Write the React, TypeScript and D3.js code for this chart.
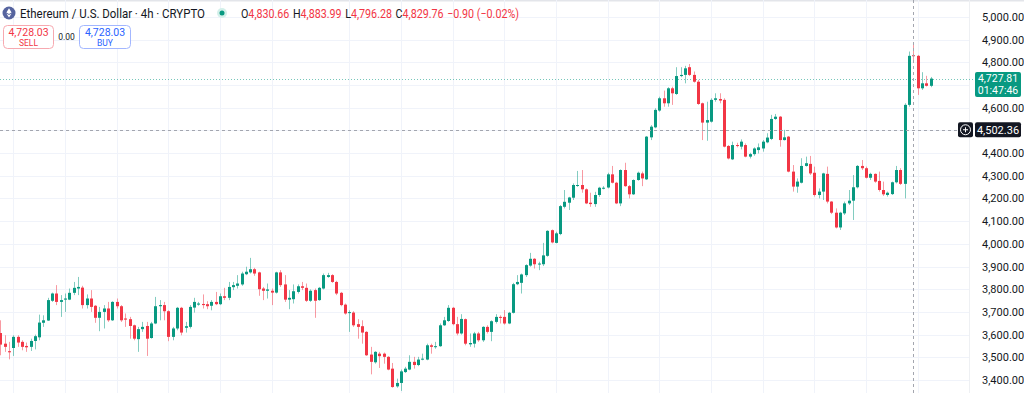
import * as d3 from 'd3';

const W = 1024;
const H = 393;

// 4h candles, oldest first
const opens = [
  3607, 3560, 3527, 3541, 3590, 3568, 3550, 3546, 3572, 3588, 3652, 3662, 3749, 3781, 3744, 3754, 3754, 3784, 3803, 3807,
  3730, 3759, 3727, 3674, 3700, 3715, 3663, 3744, 3725, 3671, 3668, 3641, 3580, 3624, 3638, 3585, 3649, 3725, 3730, 3703,
  3590, 3627, 3718, 3630, 3634, 3719, 3732, 3735, 3734, 3727, 3744, 3734, 3769, 3762, 3809, 3815, 3821, 3866, 3874, 3888,
  3874, 3803, 3793, 3793, 3785, 3874, 3821, 3754, 3756, 3788, 3813, 3806, 3749, 3796, 3752, 3803, 3854, 3862, 3832, 3784,
  3732, 3696, 3697, 3646, 3637, 3612, 3512, 3478, 3516, 3516, 3502, 3450, 3372, 3387, 3435, 3446, 3480, 3466, 3490, 3490,
  3553, 3546, 3549, 3641, 3660, 3718, 3646, 3605, 3668, 3557, 3560, 3605, 3575, 3634, 3612, 3656, 3678, 3678, 3649, 3696,
  3822, 3828, 3862, 3904, 3934, 3910, 3910, 3947, 4060, 4004, 4043, 4163, 4181, 4203, 4256, 4259, 4240, 4181, 4175, 4215,
  4246, 4248, 4306, 4269, 4178, 4325, 4254, 4218, 4281, 4310, 4284, 4469, 4513, 4587, 4641, 4619, 4685, 4660, 4739, 4744,
  4778, 4744, 4714, 4619, 4534, 4538, 4634, 4638, 4634, 4431, 4372, 4435, 4428, 4435, 4384, 4395, 4413, 4420, 4447, 4462,
  4550, 4560, 4457, 4472, 4318, 4252, 4269, 4343, 4352, 4313, 4215, 4230, 4308, 4186, 4137, 4072, 4134, 4178, 4190, 4249,
  4343, 4333, 4291, 4308, 4277, 4237, 4215, 4219, 4271, 4325, 4264, 4612, 4830.66, 4828, 4685, 4707, 4696,
];
const highs = [
  3663, 3597, 3568, 3597, 3597, 3575, 3565, 3582, 3600, 3688, 3685, 3762, 3785, 3818, 3774, 3781, 3803, 3832, 3854, 3815,
  3777, 3796, 3730, 3722, 3730, 3744, 3747, 3759, 3730, 3693, 3678, 3644, 3634, 3656, 3656, 3656, 3766, 3752, 3744, 3707,
  3634, 3722, 3722, 3656, 3730, 3762, 3744, 3777, 3747, 3752, 3788, 3781, 3806, 3832, 3832, 3862, 3877, 3899, 3938, 3894,
  3877, 3810, 3825, 3803, 3877, 3884, 3862, 3796, 3821, 3821, 3832, 3825, 3799, 3803, 3810, 3869, 3872, 3866, 3837, 3788,
  3737, 3707, 3703, 3668, 3663, 3615, 3546, 3527, 3524, 3521, 3505, 3475, 3406, 3446, 3458, 3509, 3502, 3502, 3516, 3560,
  3560, 3568, 3649, 3678, 3730, 3722, 3678, 3690, 3671, 3605, 3612, 3612, 3637, 3641, 3663, 3690, 3685, 3708, 3700, 3828,
  3862, 3869, 3910, 3960, 3937, 3921, 4004, 4060, 4063, 4053, 4171, 4237, 4207, 4266, 4321, 4325, 4244, 4225, 4229, 4251,
  4254, 4313, 4343, 4273, 4328, 4357, 4259, 4284, 4318, 4318, 4475, 4523, 4597, 4648, 4675, 4690, 4692, 4778, 4778, 4784,
  4792, 4759, 4722, 4622, 4626, 4641, 4663, 4663, 4641, 4435, 4450, 4445, 4460, 4442, 4401, 4425, 4442, 4457, 4487, 4568,
  4572, 4563, 4502, 4475, 4347, 4288, 4377, 4384, 4387, 4340, 4244, 4313, 4340, 4188, 4156, 4141, 4186, 4237, 4303, 4347,
  4369, 4340, 4313, 4310, 4318, 4274, 4230, 4274, 4343, 4333, 4619, 4847, 4883.99, 4832, 4756, 4740, 4735,
];
const lows = [
  3509, 3524, 3491, 3506, 3546, 3531, 3524, 3528, 3535, 3575, 3634, 3660, 3744, 3730, 3678, 3700, 3752, 3774, 3774, 3715,
  3715, 3700, 3652, 3615, 3627, 3656, 3660, 3715, 3656, 3634, 3582, 3575, 3524, 3612, 3506, 3582, 3646, 3663, 3663, 3571,
  3575, 3619, 3597, 3609, 3627, 3697, 3727, 3715, 3712, 3707, 3730, 3730, 3752, 3752, 3796, 3803, 3815, 3862, 3869, 3859,
  3771, 3752, 3759, 3730, 3781, 3810, 3744, 3712, 3737, 3781, 3796, 3744, 3744, 3674, 3749, 3799, 3850, 3828, 3774, 3725,
  3688, 3612, 3634, 3582, 3560, 3506, 3425, 3472, 3453, 3472, 3443, 3366, 3366, 3352, 3431, 3443, 3450, 3461, 3487, 3487,
  3516, 3538, 3546, 3638, 3656, 3641, 3597, 3600, 3553, 3546, 3543, 3568, 3568, 3605, 3571, 3649, 3649, 3644, 3646, 3693,
  3818, 3781, 3854, 3899, 3891, 3884, 3902, 3943, 4002, 4002, 4038, 4156, 4149, 4193, 4251, 4225, 4175, 4163, 4163, 4207,
  4240, 4244, 4266, 4175, 4166, 4251, 4200, 4215, 4278, 4254, 4281, 4457, 4509, 4582, 4604, 4604, 4612, 4656, 4734, 4707,
  4739, 4710, 4612, 4457, 4454, 4534, 4626, 4619, 4425, 4372, 4369, 4425, 4416, 4381, 4376, 4388, 4398, 4406, 4443, 4457,
  4546, 4428, 4455, 4315, 4230, 4225, 4266, 4340, 4303, 4208, 4200, 4193, 4178, 4131, 4068, 4061, 4127, 4171, 4105, 4244,
  4325, 4288, 4281, 4269, 4230, 4211, 4208, 4215, 4266, 4259, 4200, 4604, 4796.28, 4656, 4678, 4693, 4690,
];
const closes = [
  3556, 3546, 3522, 3590, 3565, 3546, 3544, 3572, 3593, 3653, 3663, 3752, 3781, 3744, 3752, 3759, 3784, 3806, 3810, 3730,
  3759, 3722, 3674, 3700, 3715, 3663, 3744, 3725, 3663, 3666, 3638, 3582, 3624, 3634, 3582, 3649, 3725, 3730, 3703, 3590,
  3627, 3718, 3609, 3637, 3722, 3744, 3737, 3730, 3725, 3744, 3734, 3769, 3762, 3810, 3818, 3825, 3869, 3877, 3888, 3869,
  3800, 3793, 3799, 3785, 3874, 3818, 3754, 3762, 3791, 3813, 3806, 3749, 3793, 3749, 3806, 3862, 3862, 3832, 3781, 3730,
  3693, 3699, 3641, 3634, 3609, 3509, 3480, 3524, 3505, 3502, 3446, 3369, 3387, 3438, 3450, 3480, 3466, 3490, 3494, 3553,
  3546, 3549, 3641, 3663, 3718, 3646, 3605, 3669, 3560, 3563, 3605, 3575, 3634, 3612, 3659, 3678, 3675, 3649, 3696, 3822,
  3832, 3865, 3906, 3934, 3910, 3913, 3949, 4057, 4006, 4046, 4166, 4185, 4204, 4259, 4259, 4240, 4178, 4175, 4215, 4247,
  4247, 4306, 4269, 4178, 4325, 4254, 4218, 4281, 4313, 4288, 4472, 4516, 4590, 4641, 4619, 4685, 4663, 4739, 4744, 4773,
  4744, 4714, 4616, 4534, 4545, 4634, 4641, 4631, 4428, 4376, 4435, 4431, 4450, 4384, 4395, 4420, 4425, 4450, 4468, 4550,
  4560, 4457, 4469, 4318, 4252, 4274, 4343, 4355, 4310, 4215, 4230, 4310, 4186, 4137, 4072, 4137, 4178, 4190, 4249, 4343,
  4333, 4291, 4308, 4274, 4237, 4218, 4225, 4271, 4325, 4264, 4612, 4828, 4829.76, 4685, 4707, 4696, 4727.81,
];

const priceTicks = [
  3400, 3500, 3600, 3700, 3800, 3900, 4000, 4100, 4200, 4300, 4400, 4500, 4600, 4700, 4800, 4900, 5000,
];
// candles where the time grid lines fall
const timeGridCandles = [3, 15, 27, 39, 51, 63, 81, 93, 105, 117, 129, 141, 153, 165, 177, 189, 201, 213];

const lastPrice = 4727.81;
const countdown = '01:47:46';
const crossPrice = 4502.36;
const crossCandle = 212;
const bidAsk = '4,728.03';
const spread = '0.00';
const ohlcLabels = ['O', 'H', 'L', 'C'];
const ohlcValues = ['4,830.66', '4,883.99', '4,796.28', '4,829.76'];
const change = '−0.90 (−0.02%)';

const UP = '#089981';
const DOWN = '#F23645';
const TEXT = '#131722';
const FONT = 'Roboto, "Noto Sans", sans-serif';

const App = () => {
  const n = opens.length;
  const x = d3.scaleLinear().domain([0, n - 1]).range([0.4, 930.5]);
  const y = d3.scaleLinear().domain([3400, 5000]).range([380, 16.8]);
  const fmt = d3.format(',.2f');
  const plotRight = 969;

  const candles = d3.range(n).map(i => {
    const o = opens[i], c = closes[i];
    const cx = Math.round(x(i));
    const top = y(Math.max(o, c));
    const bot = y(Math.min(o, c));
    return {
      i,
      cx,
      color: c >= o ? UP : DOWN,
      wickTop: y(highs[i]),
      wickBot: y(lows[i]),
      bodyTop: top,
      bodyH: Math.max(1, bot - top),
    };
  });

  const lastY = y(lastPrice);
  const crossY = y(crossPrice);
  const crossX = Math.round(x(crossCandle)) + 0.5;

  // axis labels that sit under the last-price / crosshair badges are not drawn
  const axisLabels = priceTicks.filter(p => Math.abs(y(p) - 84.5) > 16 && Math.abs(y(p) - crossY) > 12);

  return (
    <div style={{ position: 'fixed', left: 0, top: 0 }}>
      <svg width={W} height={H} style={{ display: 'block', background: '#fff', fontFamily: FONT }}>
        <rect x={0} y={0} width={W} height={1.5} fill="#e3e5ea" />

        {/* grid */}
        {priceTicks.map(p => (
          <line key={'h' + p} x1={0} x2={plotRight} y1={Math.round(y(p)) + 0.5} y2={Math.round(y(p)) + 0.5}
            stroke="#f0f3fa" />
        ))}
        {timeGridCandles.map(k => (
          <line key={'v' + k} x1={Math.round(x(k)) + 0.5} x2={Math.round(x(k)) + 0.5} y1={0} y2={H}
            stroke="#f0f3fa" />
        ))}
        <line x1={plotRight + 0.5} x2={plotRight + 0.5} y1={0} y2={H} stroke="#eef0f3" />

        {/* last price dotted line */}
        <line x1={0} x2={975} y1={Math.round(lastY) + 0.5} y2={Math.round(lastY) + 0.5}
          stroke={UP} strokeDasharray="1 2" strokeOpacity={0.55} />

        {/* candles */}
        {candles.map(d => (
          <g key={d.i}>
            <rect x={d.cx} y={d.wickTop} width={1} height={d.wickBot - d.wickTop} fill={d.color} fillOpacity={0.5} />
            <rect x={d.cx - 1} y={d.bodyTop} width={3} height={d.bodyH} fill={d.color} />
          </g>
        ))}

        {/* crosshair */}
        <line x1={crossX} x2={crossX} y1={0} y2={H} stroke="#a3a6af" strokeDasharray="3 3" />
        <line x1={0} x2={958} y1={Math.round(crossY) + 0.5} y2={Math.round(crossY) + 0.5}
          stroke="#a3a6af" strokeDasharray="3 3" />

        {/* price axis */}
        {axisLabels.map(p => (
          <text key={'t' + p} x={982} y={y(p) + 4} fontSize={11} fill={TEXT}>{fmt(p)}</text>
        ))}
        <rect x={975} y={72} width={46} height={25} rx={2} fill={UP} />
        <text x={998} y={82} fontSize={10.5} fill="#fff" textAnchor="middle">{fmt(lastPrice)}</text>
        <text x={998} y={93.5} fontSize={10.5} fill="#fff" textAnchor="middle">{countdown}</text>

        <rect x={975} y={crossY - 7.5} width={46} height={15} rx={2} fill={TEXT} />
        <text x={998} y={crossY + 4} fontSize={11} fill="#fff" textAnchor="middle">{fmt(crossPrice)}</text>
        <rect x={958} y={crossY - 7.5} width={15} height={15} rx={2} fill={TEXT} />
        <circle cx={965.5} cy={crossY} r={5} fill="none" stroke="#fff" />
        <line x1={963} x2={968} y1={crossY} y2={crossY} stroke="#fff" />
        <line x1={965.5} x2={965.5} y1={crossY - 2.5} y2={crossY + 2.5} stroke="#fff" />

        {/* header */}
        <circle cx={9} cy={13} r={6.5} fill="#56649f" />
        <path d="M9 8.2 L11.6 12.6 L9 14.1 L6.4 12.6 Z M9 14.9 L11.6 13.4 L9 17.4 L6.4 13.4 Z" fill="#fff" />
        <text x={20} y={17.5} fontSize={13} fill={TEXT} textLength={185} lengthAdjust="spacingAndGlyphs">
          Ethereum / U.S. Dollar · 4h · CRYPTO
        </text>
        <circle cx={222} cy={13} r={5} fill="#d3f0ea" />
        <circle cx={222} cy={13} r={2.5} fill={UP} />
        <text x={241} y={17.5} fontSize={12} fill={DOWN} textLength={278} lengthAdjust="spacingAndGlyphs">
          {ohlcLabels.map((l, i) => (
            <tspan key={l}>
              <tspan fill={TEXT} dx={i === 0 ? 0 : 4}>{l}</tspan>
              <tspan>{ohlcValues[i]}</tspan>
            </tspan>
          ))}
          <tspan dx={4}>{change}</tspan>
        </text>

        {/* sell / buy */}
        <rect x={3.5} y={25.5} width={50} height={23} rx={4} fill="#fff" stroke="#f7a9b0" />
        <text x={28.5} y={36} fontSize={10.5} fill={DOWN} textAnchor="middle">{bidAsk}</text>
        <text x={28.5} y={45.5} fontSize={8.5} fill={DOWN} textAnchor="middle">SELL</text>
        <text x={66.5} y={40} fontSize={8.5} fill={TEXT} textAnchor="middle">{spread}</text>
        <rect x={79.5} y={25.5} width={51} height={23} rx={4} fill="#fff" stroke="#a3b7ff" />
        <text x={105} y={36} fontSize={10.5} fill="#2962FF" textAnchor="middle">{bidAsk}</text>
        <text x={105} y={45.5} fontSize={8.5} fill="#2962FF" textAnchor="middle">BUY</text>
      </svg>
    </div>
  );
};

export default App;
